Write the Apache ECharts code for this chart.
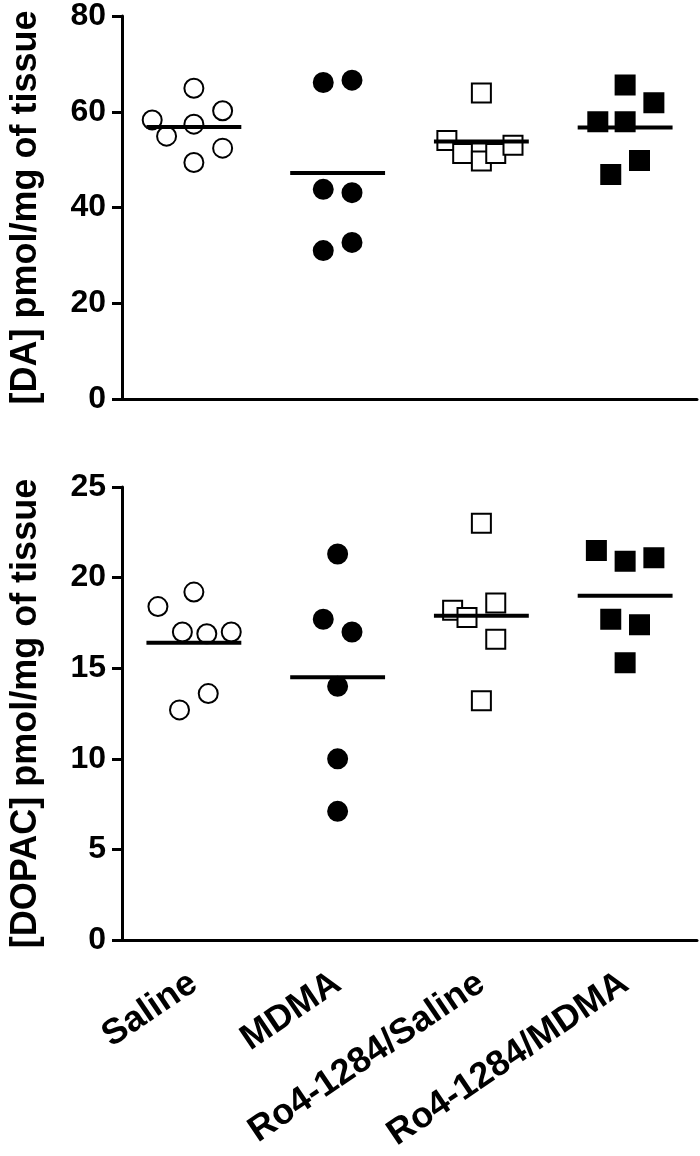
<!DOCTYPE html>
<html>
<head>
<meta charset="utf-8">
<script src="https://cdn.jsdelivr.net/npm/echarts@6/dist/echarts.min.js"></script>
<style>
  html, body { margin: 0; padding: 0; background: #fff; }
  #chart { width: 700px; height: 1156px; }
</style>
</head>
<body>
<div id="chart"></div>
<script>
// groups along the x axis
const groups = ['Saline', 'MDMA', 'Ro4-1284/Saline', 'Ro4-1284/MDMA'];

// [DA] pmol/mg of tissue, per animal
const daSaline = [58.3, 54.9, 64.9, 57.4, 49.4, 60.2, 52.4];
const daMdma = [66.1, 66.6, 43.8, 43.1, 31.0, 32.7];
const daRoSaline = [63.9, 54.0, 51.3, 51.4, 49.7, 51.3, 53.0];
const daRoMdma = [65.6, 61.9, 57.9, 57.9, 49.8, 46.9];
const daMeans = [56.8, 47.2, 53.8, 56.7];

// [DOPAC] pmol/mg of tissue, per animal
const dopacSaline = [18.4, 19.2, 17.0, 16.9, 17.0, 13.6, 12.7];
const dopacMdma = [21.3, 17.7, 17.0, 14.0, 10.0, 7.1];
const dopacRoSaline = [23.0, 18.2, 17.8, 18.6, 16.6, 13.2];
const dopacRoMdma = [21.5, 20.9, 21.1, 17.7, 17.4, 15.3];
const dopacMeans = [16.4, 14.5, 17.9, 19.0];

// horizontal scatter of points inside each group (fraction of a category)
const daJitter = [
  [-0.29, -0.19, 0, 0, 0, 0.2, 0.2],
  [-0.1, 0.1, -0.1, 0.1, -0.1, 0.1],
  [0, -0.24, -0.13, 0, 0, 0.1, 0.22],
  [0, 0.2, -0.19, 0, 0.1, -0.1]
];
const dopacJitter = [
  [-0.25, 0, -0.08, 0.09, 0.26, 0.1, -0.1],
  [0, -0.1, 0.1, 0, 0, 0],
  [0, -0.2, -0.1, 0.1, 0.1, 0],
  [-0.2, 0, 0.2, -0.1, 0.1, 0]
];

const font = 'Liberation Sans, Arial, sans-serif';
const markStyles = [
  { symbol: 'circle', color: '#fff' },
  { symbol: 'circle', color: '#000' },
  { symbol: 'rect', color: '#fff' },
  { symbol: 'rect', color: '#000' }
];

function pts(values, jitter, i) {
  return values.map((v, k) => [i + jitter[k], v]);
}

function panelSeries(sets, jitter, means, axisIdx) {
  const out = [];
  sets.forEach((vals, i) => {
    out.push({
      type: 'scatter',
      xAxisIndex: axisIdx * 2 + 1,
      yAxisIndex: axisIdx,
      symbol: markStyles[i].symbol,
      symbolSize: 19,
      itemStyle: { color: markStyles[i].color, borderColor: '#000', borderWidth: 2, opacity: 1 },
      data: pts(vals, jitter[i], i),
      z: 2
    });
    // group mean bar
    out.push({
      type: 'line',
      xAxisIndex: axisIdx * 2 + 1,
      yAxisIndex: axisIdx,
      symbol: 'none',
      lineStyle: { color: '#000', width: 4 },
      data: [[i - 0.33, means[i]], [i + 0.33, means[i]]],
      z: 3
    });
  });
  return out;
}

function catAxis(grid, showLabels) {
  return {
    type: 'category',
    gridIndex: grid,
    data: groups,
    boundaryGap: true,
    axisLine: { lineStyle: { color: '#000', width: 3 } },
    axisTick: { alignWithLabel: true, length: 10, lineStyle: { color: '#000', width: 3 } },
    axisLabel: {
      show: showLabels,
      interval: 0,
      rotate: 34,
      margin: 40,
      color: '#000',
      fontSize: 36,
      fontWeight: 'bold',
      fontFamily: font
    }
  };
}

function hiddenX(grid) {
  return { type: 'value', gridIndex: grid, min: -0.5, max: 3.5, show: false };
}

function yAxis(grid, max, interval, name) {
  return {
    type: 'value',
    gridIndex: grid,
    min: 0,
    max: max,
    interval: interval,
    name: name,
    nameLocation: 'middle',
    nameGap: 78,
    nameTextStyle: { color: '#000', fontSize: 36, fontWeight: 'bold', fontFamily: font },
    axisLine: { show: true, onZero: false, lineStyle: { color: '#000', width: 3 } },
    axisTick: { show: true, length: 10, lineStyle: { color: '#000', width: 3 } },
    axisLabel: { color: '#000', fontSize: 32, fontWeight: 'bold', fontFamily: font, margin: 16 },
    splitLine: { show: false }
  };
}

const chart = echarts.init(document.getElementById('chart'));
chart.setOption({
  backgroundColor: '#fff',
  animation: false,
  grid: [
    { left: 117, right: 3, top: 15, height: 384 },
    { left: 117, right: 3, top: 487, height: 453 }
  ],
  xAxis: [catAxis(0, false), hiddenX(0), catAxis(1, true), hiddenX(1)],
  yAxis: [
    yAxis(0, 80, 20, '[DA] pmol/mg of tissue'),
    yAxis(1, 25, 5, '[DOPAC] pmol/mg of tissue')
  ],
  series: [
    ...panelSeries([daSaline, daMdma, daRoSaline, daRoMdma], daJitter, daMeans, 0),
    ...panelSeries([dopacSaline, dopacMdma, dopacRoSaline, dopacRoMdma], dopacJitter, dopacMeans, 1)
  ]
});
</script>
</body>
</html>
